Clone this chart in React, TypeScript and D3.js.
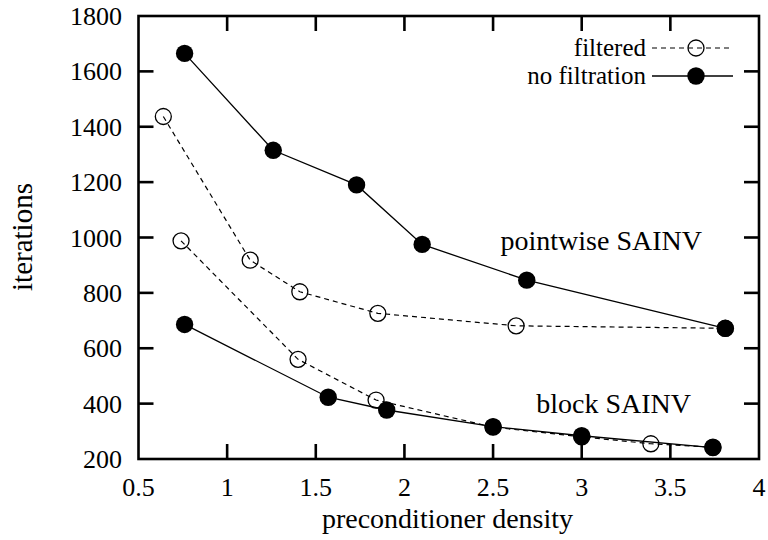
import * as d3 from 'd3'

// pointwise SAINV
const pwFiltX = [0.64, 1.13, 1.41, 1.85, 2.63, 3.81]
const pwFiltY = [1437, 918, 804, 726, 681, 672]
const pwNoX = [0.76, 1.26, 1.73, 2.1, 2.69, 3.81]
const pwNoY = [1665, 1315, 1190, 975, 846, 672]

// block SAINV
const blFiltX = [0.74, 1.4, 1.84, 2.5, 3.0, 3.39, 3.74]
const blFiltY = [988, 560, 413, 315, 280, 255, 243]
const blNoX = [0.76, 1.57, 1.9, 2.5, 3.0, 3.74]
const blNoY = [686, 423, 377, 317, 284, 241]

const xTicks = [0.5, 1, 1.5, 2, 2.5, 3, 3.5, 4]
const yTicks = [200, 400, 600, 800, 1000, 1200, 1400, 1600, 1800]

const W = 768
const H = 540
const M = { left: 138.5, right: 759, top: 16, bottom: 459 }
const FONT = 'Liberation Serif, DejaVu Serif, Times New Roman, serif'
const TICK = 15

const zip = (xs: number[], ys: number[]) => xs.map((x, i) => [x, ys[i]] as [number, number])

export default function App() {
  const x = d3.scaleLinear().domain([0.5, 4]).range([M.left, M.right])
  const y = d3.scaleLinear().domain([200, 1800]).range([M.bottom, M.top])
  const line = d3
    .line<[number, number]>()
    .x((d) => x(d[0]))
    .y((d) => y(d[1]))

  const filtered = [zip(pwFiltX, pwFiltY), zip(blFiltX, blFiltY)]
  const solid = [zip(pwNoX, pwNoY), zip(blNoX, blNoY)]

  const fmt = (v: number) => (Number.isInteger(v) ? String(v) : v.toFixed(1))

  return (
    <svg
      width={W}
      height={H}
      style={{ position: 'absolute', left: 0, top: 0, background: '#fff', fontFamily: FONT }}
    >
      {/* dashed filtered series */}
      {filtered.map((s, i) => (
        <g key={'f' + i}>
          <path d={line(s) ?? ''} fill="none" stroke="#000" strokeWidth={1.2} strokeDasharray="5 4" />
          {s.map((d, j) => (
            <circle key={j} cx={x(d[0])} cy={y(d[1])} r={8} fill="none" stroke="#000" strokeWidth={1.3} />
          ))}
        </g>
      ))}
      {/* solid series */}
      {solid.map((s, i) => (
        <g key={'s' + i}>
          <path d={line(s) ?? ''} fill="none" stroke="#000" strokeWidth={1.3} />
          {s.map((d, j) => (
            <circle key={j} cx={x(d[0])} cy={y(d[1])} r={8.7} fill="#000" />
          ))}
        </g>
      ))}

      {/* frame and ticks */}
      <rect
        x={M.left}
        y={M.top}
        width={M.right - M.left}
        height={M.bottom - M.top}
        fill="none"
        stroke="#000"
        strokeWidth={2.6}
      />
      {xTicks.slice(1, -1).map((t) => (
        <g key={'xt' + t} stroke="#000" strokeWidth={2.6}>
          <line x1={x(t)} x2={x(t)} y1={M.bottom} y2={M.bottom - TICK} />
          <line x1={x(t)} x2={x(t)} y1={M.top} y2={M.top + TICK} />
        </g>
      ))}
      {yTicks.slice(1, -1).map((t) => (
        <g key={'yt' + t} stroke="#000" strokeWidth={2.6}>
          <line x1={M.left} x2={M.left + TICK} y1={y(t)} y2={y(t)} />
          <line x1={M.right} x2={M.right - TICK} y1={y(t)} y2={y(t)} />
        </g>
      ))}

      {/* tick labels */}
      {xTicks.map((t) => (
        <text key={'xl' + t} x={x(t)} y={496} textAnchor="middle" fontSize={26}>
          {fmt(t)}
        </text>
      ))}
      {yTicks.map((t) => (
        <text key={'yl' + t} x={122} y={y(t) + 9} textAnchor="end" fontSize={26}>
          {t}
        </text>
      ))}

      {/* axis titles */}
      <text x={447.5} y={528} textAnchor="middle" fontSize={28}>
        preconditioner density
      </text>
      <text transform="translate(32,237) rotate(-90)" textAnchor="middle" fontSize={29}>
        iterations
      </text>

      {/* in-plot labels */}
      <text x={702} y={250} textAnchor="end" fontSize={28}>
        pointwise SAINV
      </text>
      <text x={691} y={413} textAnchor="end" fontSize={28}>
        block SAINV
      </text>

      {/* legend */}
      <text x={646} y={56} textAnchor="end" fontSize={25}>
        filtered
      </text>
      <line x1={652} x2={733} y1={48} y2={48} stroke="#000" strokeWidth={1.2} strokeDasharray="5 4" />
      <circle cx={696} cy={48} r={8} fill="none" stroke="#000" strokeWidth={1.3} />
      <text x={646} y={84} textAnchor="end" fontSize={25}>
        no filtration
      </text>
      <line x1={652} x2={733} y1={76} y2={76} stroke="#000" strokeWidth={1.3} />
      <circle cx={696} cy={76} r={8.7} fill="#000" />
    </svg>
  )
}
